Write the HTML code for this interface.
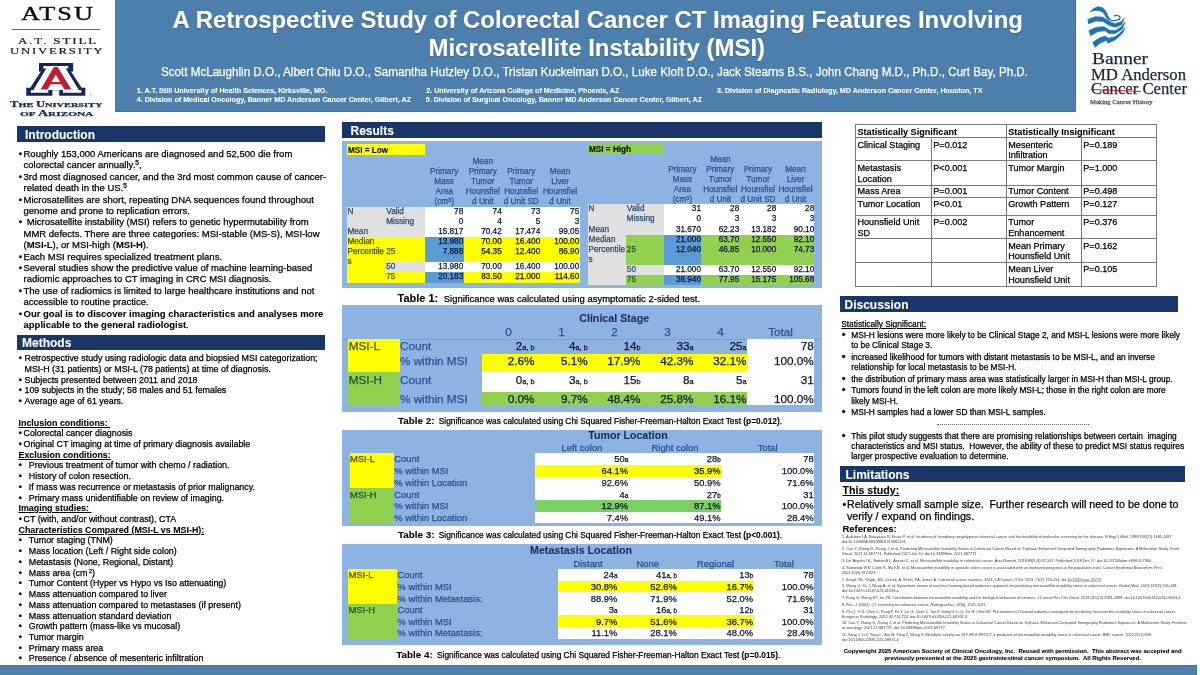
<!DOCTYPE html>
<html><head><meta charset="utf-8"><title>Poster</title>
<style>
html,body{margin:0;padding:0;background:#fff;}
body{width:1200px;height:675px;position:relative;overflow:hidden;font-family:"Liberation Sans",sans-serif;color:#000;}
.t{position:absolute;white-space:pre;line-height:1;-webkit-text-stroke:0.25px currentColor;}
b,.b{-webkit-text-stroke:0.08px currentColor;}
.r{position:absolute;}
u{text-decoration-thickness:0.5px;text-underline-offset:0.6px;}
sub.s{font-size:55%;vertical-align:baseline;}
#w{position:absolute;left:0;top:0;width:1200px;height:675px;will-change:transform;}
</style></head><body><div id="w">

<div class="r" style="left:115.20px;top:0.00px;width:960.80px;height:111.70px;background:#456f99;"></div>
<div class="r" style="left:115.20px;top:0.00px;width:960.00px;height:110.90px;background:#4d7fac;"></div>
<div class="t b" style="top:8px;font-size:23.95px;left:296.80px;width:600px;text-align:center;font-weight:bold;color:#fff;left:97.8px;width:1000px;text-shadow:0 0.5px 1px rgba(0,0,0,.25);">A Retrospective Study of Colorectal Cancer CT Imaging Features Involving</div>
<div class="t b" style="top:36px;font-size:23.95px;left:296.80px;width:600px;text-align:center;font-weight:bold;color:#fff;left:96.8px;width:1000px;text-shadow:0 0.5px 1px rgba(0,0,0,.25);">Microsatellite Instability (MSI)</div>
<div class="t" style="left:161.00px;top:66px;font-size:12.2px;transform-origin:0 0;transform:scaleX(0.9533);color:#fff;">Scott McLaughlin D.O., Albert Chiu D.O., Samantha Hutzley D.O., Tristan Kuckelman D.O., Luke Kloft D.O., Jack Stearns B.S., John Chang M.D., Ph.D., Curt Bay, Ph.D.</div>
<div class="t b" style="top:88px;font-size:7.15px;left:136.75px;font-weight:bold;color:#fff;">1. A.T. Still University of Health Sciences, Kirksville, MO.</div>
<div class="t b" style="top:97px;font-size:7.15px;left:136.75px;font-weight:bold;color:#fff;">4. Division of Medical Oncology, Banner MD Anderson Cancer Center, Gilbert, AZ</div>
<div class="t b" style="top:88px;font-size:7.15px;left:426.25px;font-weight:bold;color:#fff;">2. University of Arizona College of Medicine, Phoenix, AZ</div>
<div class="t b" style="top:97px;font-size:7.15px;left:425.75px;font-weight:bold;color:#fff;">5. Division of Surgical Oncology, Banner MD Anderson Cancer Center, Gilbert, AZ</div>
<div class="t b" style="top:88px;font-size:7.15px;left:717.00px;font-weight:bold;color:#fff;">3. Division of Diagnostic Radiology, MD Anderson Cancer Center, Houston, TX</div>
<div class="t" style="left:20.50px;top:4px;font-size:19.0px;transform-origin:0 0;transform:scaleX(1.3842);color:#111;font-family:'Liberation Serif',serif;letter-spacing:1.5px;-webkit-text-stroke:0.35px #111;">ATSU</div>
<div class="r" style="left:11.50px;top:29.00px;width:88.10px;height:0.90px;background:#666;"></div>
<div class="t" style="left:17.80px;top:37px;font-size:8.6px;transform-origin:0 0;transform:scaleX(1.5197);color:#222;font-family:'Liberation Serif',serif;letter-spacing:1.2px;-webkit-text-stroke:0.2px #222;">A.T. STILL</div>
<div class="t" style="left:10.30px;top:47px;font-size:8.6px;transform-origin:0 0;transform:scaleX(1.4833);color:#222;font-family:'Liberation Serif',serif;letter-spacing:1.2px;-webkit-text-stroke:0.2px #222;">UNIVERSITY</div>
<svg class="r" style="left:20px;top:58px" width="72" height="42" viewBox="0 0 1157 675">
<polygon fill="#15275a" points="305,82 855,82 855,215 820,215 990,480 1050,480 1050,605 630,605 630,520 520,520 520,605 100,605 100,480 165,480 335,215 305,215"/>
<polygon fill="#fff" points="375,130 775,130 775,168 735,168 945,515 985,515 985,560 690,560 690,515 455,515 455,560 175,560 175,515 215,515 422,168 375,168"/>
<path fill="#bd1e33" fill-rule="evenodd" d="M545,145 L605,145 L825,505 L715,505 L663,420 L492,420 L440,505 L330,505 Z M575,270 L505,385 L645,385 Z"/>
<circle cx="1135" cy="590" r="13" fill="none" stroke="#666" stroke-width="6"/>
</svg>
<div class="t" style="left:10.00px;top:102px;font-size:7.2px;transform-origin:0 0;transform:scaleX(1.7541);font-weight:bold;color:#1b2c57;font-family:'Liberation Serif',serif;">T<span style="font-size:5.9px">HE </span>U<span style="font-size:5.9px">NIVERSITY</span></div>
<div class="t" style="left:19.60px;top:111px;font-size:7.2px;transform-origin:0 0;transform:scaleX(1.9179);font-weight:bold;color:#1b2c57;font-family:'Liberation Serif',serif;"><span style="font-size:5.9px">OF </span>A<span style="font-size:5.9px">RIZONA</span></div>
<svg class="r" style="left:1084px;top:2px" width="48" height="50" viewBox="0 0 648 675" fill="#1a74b2" stroke="#1a74b2" stroke-width="9" stroke-linejoin="round">
<polygon points="85,130 130,88 190,64 250,76 292,122 320,182 350,236 336,246 300,214 280,170 255,137 200,114 140,116"/>
<path fill="none" stroke-width="17" d="M340,236 C400,266 482,248 488,210 C488,180 430,176 405,187"/>
<polygon points="52,236 150,200 250,204 330,256 420,294 500,266 542,220 512,304 430,340 340,318 260,263 160,257 60,294"/>
<polygon points="66,385 170,340 270,335 340,378 420,388 500,338 552,272 518,366 420,426 340,426 280,388 180,402 90,454"/>
<polygon points="120,545 200,490 280,460 330,488 420,468 510,398 552,348 524,418 430,506 322,556 305,518 220,552 150,612"/>
</svg>
<div class="t" style="left:1092.20px;top:50px;font-size:17.6px;transform-origin:0 0;transform:scaleX(1.1021);color:#1a2440;font-family:'Liberation Serif',serif;-webkit-text-stroke:0.25px #1a2440;">Banner</div>
<div class="t" style="left:1091.40px;top:66px;font-size:17.6px;transform-origin:0 0;transform:scaleX(0.9482);color:#1a2440;font-family:'Liberation Serif',serif;-webkit-text-stroke:0.25px #1a2440;">MD Anderson</div>
<div class="t" style="left:1091.40px;top:80px;font-size:17.6px;transform-origin:0 0;transform:scaleX(0.9493);color:#1a2440;font-family:'Liberation Serif',serif;-webkit-text-stroke:0.25px #1a2440;">Cancer Center</div>
<div class="r" style="left:1091px;top:88.6px;width:49.5px;height:1.1px;background:#c8202c;transform:rotate(2.4deg);transform-origin:0 0"></div>
<div class="t" style="left:1090.00px;top:100px;font-size:5.6px;transform-origin:0 0;transform:scaleX(1.1869);color:#555;font-family:'Liberation Serif',serif;">Making Cancer History</div>
<div class="r" style="left:0px;top:665px;width:1197px;height:10px;background:#4e80ac;"></div>
<div class="r" style="left:0px;top:665px;width:1197px;height:1px;background:#41709c;"></div>
<div class="r" style="left:1196px;top:665px;width:1px;height:10px;background:#41709c;"></div>
<div class="r" style="left:17px;top:126px;width:308px;height:16px;background:#1a3668;"></div>
<div class="t b" style="top:129px;font-size:12px;left:25.00px;font-weight:bold;color:#fff;">Introduction</div>
<div class="t" style="top:149px;font-size:9.5px;left:18.75px;">•</div>
<div class="t" style="top:149px;font-size:9.5px;left:23.50px;">Roughly 153,000 Americans are diagnosed and 52,500 die from</div>
<div class="t" style="top:160px;font-size:9.5px;left:23.50px;">colorectal cancer annually.<span style="font-size:6.6px;position:relative;top:-2.6px">5</span>,</div>
<div class="t" style="top:172px;font-size:9.5px;left:18.75px;">•</div>
<div class="t" style="top:172px;font-size:9.5px;left:23.50px;">3rd most diagnosed cancer, and the 3rd most common cause of cancer-</div>
<div class="t" style="top:183px;font-size:9.5px;left:23.50px;">related death in the US.<span style="font-size:6.6px;position:relative;top:-2.6px">5</span></div>
<div class="t" style="top:195px;font-size:9.5px;left:18.75px;">•</div>
<div class="t" style="top:195px;font-size:9.5px;left:23.50px;">Microsatellites are short, repeating DNA sequences found throughout</div>
<div class="t" style="top:206px;font-size:9.5px;left:23.50px;">genome and prone to replication errors.</div>
<div class="t" style="top:217px;font-size:9.5px;left:18.75px;">•</div>
<div class="t" style="top:217px;font-size:9.5px;left:26.75px;">Microsatellite instability (MSI) refers to genetic hypermutability from</div>
<div class="t" style="top:229px;font-size:9.5px;left:23.50px;">MMR defects. There are three categories: MSI-stable (MS-S), MSI-low</div>
<div class="t" style="top:240px;font-size:9.5px;left:23.50px;">(<b>MSI-L</b>), or MSI-high (<b>MSI-H</b>).</div>
<div class="t" style="top:252px;font-size:9.5px;left:18.75px;">•</div>
<div class="t" style="top:252px;font-size:9.5px;left:23.50px;">Each MSI requires specialized treatment plans.</div>
<div class="t" style="top:263px;font-size:9.5px;left:18.75px;">•</div>
<div class="t" style="top:263px;font-size:9.5px;left:23.50px;">Several studies show the predictive value of machine learning-based</div>
<div class="t" style="top:274px;font-size:9.5px;left:23.50px;">radiomic approaches to CT imaging in CRC MSI diagnosis.</div>
<div class="t" style="top:286px;font-size:9.5px;left:18.75px;">•</div>
<div class="t" style="top:286px;font-size:9.5px;left:23.50px;">The use of radiomics is limited to large healthcare institutions and not</div>
<div class="t" style="top:297px;font-size:9.5px;left:23.50px;">accessible to routine practice.</div>
<div class="t" style="top:309px;font-size:9.5px;left:18.75px;">•</div>
<div class="t" style="top:309px;font-size:9.5px;left:23.50px;"><b>Our goal is to discover imaging characteristics and analyses more</b></div>
<div class="t" style="top:320px;font-size:9.5px;left:23.50px;"><b>applicable to the general radiologist</b>.</div>
<div class="r" style="left:17px;top:335px;width:308px;height:15px;background:#1a3668;"></div>
<div class="t b" style="top:337px;font-size:12px;left:22.00px;font-weight:bold;color:#fff;">Methods</div>
<div class="t" style="top:354px;font-size:8.9px;left:18.75px;">•</div>
<div class="t" style="top:354px;font-size:8.9px;left:24.50px;">Retrospective study using radiologic data and biopsied MSI categorization;</div>
<div class="t" style="top:365px;font-size:8.9px;left:24.50px;">MSI-H (31 patients) or MSI-L (78 patients) at time of diagnosis.</div>
<div class="t" style="top:376px;font-size:8.9px;left:18.75px;">•</div>
<div class="t" style="top:376px;font-size:8.9px;left:24.50px;">Subjects presented between 2011 and 2018</div>
<div class="t" style="top:386px;font-size:8.9px;left:18.75px;">•</div>
<div class="t" style="top:386px;font-size:8.9px;left:24.50px;">109 subjects in the study; 58 males and 51 females</div>
<div class="t" style="top:397px;font-size:8.9px;left:18.75px;">•</div>
<div class="t" style="top:397px;font-size:8.9px;left:24.50px;">Average age of 61 years.</div>
<div class="t b" style="top:419px;font-size:8.9px;left:18.50px;font-weight:bold;"><u>Inclusion conditions: </u></div>
<div class="t" style="top:429px;font-size:8.9px;left:18.75px;">•</div>
<div class="t" style="top:429px;font-size:8.9px;left:23.50px;">Colorectal cancer diagnosis</div>
<div class="t" style="top:440px;font-size:8.9px;left:18.75px;">•</div>
<div class="t" style="top:440px;font-size:8.9px;left:23.50px;">Original CT imaging at time of primary diagnosis available</div>
<div class="t b" style="top:451px;font-size:8.9px;left:18.50px;font-weight:bold;"><u>Exclusion conditions:</u></div>
<div class="t" style="top:461px;font-size:8.9px;left:18.75px;">•</div>
<div class="t" style="top:461px;font-size:8.9px;left:28.75px;">Previous treatment of tumor with chemo / radiation.</div>
<div class="t" style="top:472px;font-size:8.9px;left:18.75px;">•</div>
<div class="t" style="top:472px;font-size:8.9px;left:28.75px;">History of colon resection.</div>
<div class="t" style="top:483px;font-size:8.9px;left:18.75px;">•</div>
<div class="t" style="top:483px;font-size:8.9px;left:28.75px;">If mass was recurrence or metastasis of prior malignancy.</div>
<div class="t" style="top:494px;font-size:8.9px;left:18.75px;">•</div>
<div class="t" style="top:494px;font-size:8.9px;left:28.75px;">Primary mass unidentifiable on review of imaging.</div>
<div class="t b" style="top:504px;font-size:8.9px;left:18.50px;font-weight:bold;"><u>Imaging studies: </u></div>
<div class="t" style="top:515px;font-size:8.9px;left:18.75px;">•</div>
<div class="t" style="top:515px;font-size:8.9px;left:23.50px;">CT (with, and/or without contrast), CTA</div>
<div class="t b" style="top:526px;font-size:8.9px;left:18.50px;font-weight:bold;"><u>Characteristics Compared (MSI-L vs MSI-H):</u></div>
<div class="t" style="top:536px;font-size:8.9px;left:18.75px;">•</div>
<div class="t" style="top:536px;font-size:8.9px;left:28.75px;">Tumor staging (TNM)</div>
<div class="t" style="top:547px;font-size:8.9px;left:18.75px;">•</div>
<div class="t" style="top:547px;font-size:8.9px;left:28.75px;">Mass location (Left / Right side colon)</div>
<div class="t" style="top:558px;font-size:8.9px;left:18.75px;">•</div>
<div class="t" style="top:558px;font-size:8.9px;left:28.75px;">Metastasis (None, Regional, Distant)</div>
<div class="t" style="top:569px;font-size:8.9px;left:18.75px;">•</div>
<div class="t" style="top:569px;font-size:8.9px;left:28.75px;">Mass area (cm<span style="font-size:5.5px;position:relative;top:-3px"> 2</span>)</div>
<div class="t" style="top:579px;font-size:8.9px;left:18.75px;">•</div>
<div class="t" style="top:579px;font-size:8.9px;left:28.75px;">Tumor Content (Hyper vs Hypo vs Iso attenuating)</div>
<div class="t" style="top:590px;font-size:8.9px;left:18.75px;">•</div>
<div class="t" style="top:590px;font-size:8.9px;left:28.75px;">Mass attenuation compared to liver</div>
<div class="t" style="top:601px;font-size:8.9px;left:18.75px;">•</div>
<div class="t" style="top:601px;font-size:8.9px;left:28.75px;">Mass attenuation compared to metastases (if present)</div>
<div class="t" style="top:612px;font-size:8.9px;left:18.75px;">•</div>
<div class="t" style="top:612px;font-size:8.9px;left:28.75px;">Mass attenuation standard deviation</div>
<div class="t" style="top:622px;font-size:8.9px;left:18.75px;">•</div>
<div class="t" style="top:622px;font-size:8.9px;left:28.75px;">Growth pattern (mass-like vs mucosal)</div>
<div class="t" style="top:633px;font-size:8.9px;left:18.75px;">•</div>
<div class="t" style="top:633px;font-size:8.9px;left:28.75px;">Tumor margin</div>
<div class="t" style="top:644px;font-size:8.9px;left:18.75px;">•</div>
<div class="t" style="top:644px;font-size:8.9px;left:28.75px;">Primary mass area</div>
<div class="t" style="top:654px;font-size:8.9px;left:18.75px;">•</div>
<div class="t" style="top:654px;font-size:8.9px;left:28.75px;">Presence / absence of mesenteric infiltration</div>
<div class="r" style="left:342px;top:122px;width:480px;height:16px;background:#1a3668;"></div>
<div class="t b" style="top:125px;font-size:12px;left:350.50px;font-weight:bold;color:#fff;">Results</div>
<div class="r" style="left:342px;top:141px;width:480px;height:147px;background:#8db3e2;"></div>
<div class="r" style="left:347px;top:144px;width:78px;height:11px;background:#ffff00;"></div>
<div class="t b" style="top:147px;font-size:8.2px;left:347.90px;font-weight:bold;">MSI = Low</div>
<div class="t" style="top:168px;font-size:8.2px;left:144.15px;width:600px;text-align:center;color:#2b5190;">Primary</div>
<div class="t" style="top:178px;font-size:8.2px;left:144.15px;width:600px;text-align:center;color:#2b5190;">Mass</div>
<div class="t" style="top:188px;font-size:8.2px;left:144.15px;width:600px;text-align:center;color:#2b5190;">Area</div>
<div class="t" style="top:198px;font-size:8.2px;left:144.15px;width:600px;text-align:center;color:#2b5190;">(cm<span style="font-size:5.5px;position:relative;top:-2.5px">3</span>)</div>
<div class="t" style="top:158px;font-size:8.2px;left:182.75px;width:600px;text-align:center;color:#2b5190;">Mean</div>
<div class="t" style="top:168px;font-size:8.2px;left:182.75px;width:600px;text-align:center;color:#2b5190;">Primary</div>
<div class="t" style="top:178px;font-size:8.2px;left:182.75px;width:600px;text-align:center;color:#2b5190;">Tumor</div>
<div class="t" style="top:188px;font-size:8.2px;left:182.75px;width:600px;text-align:center;color:#2b5190;">Hounsfiel</div>
<div class="t" style="top:198px;font-size:8.2px;left:182.75px;width:600px;text-align:center;color:#2b5190;">d Unit</div>
<div class="t" style="top:168px;font-size:8.2px;left:221.25px;width:600px;text-align:center;color:#2b5190;">Primary</div>
<div class="t" style="top:178px;font-size:8.2px;left:221.25px;width:600px;text-align:center;color:#2b5190;">Tumor</div>
<div class="t" style="top:188px;font-size:8.2px;left:221.25px;width:600px;text-align:center;color:#2b5190;">Hounsfiel</div>
<div class="t" style="top:198px;font-size:8.2px;left:221.25px;width:600px;text-align:center;color:#2b5190;">d Unit SD</div>
<div class="t" style="top:168px;font-size:8.2px;left:260.00px;width:600px;text-align:center;color:#2b5190;">Mean</div>
<div class="t" style="top:178px;font-size:8.2px;left:260.00px;width:600px;text-align:center;color:#2b5190;">Liver</div>
<div class="t" style="top:188px;font-size:8.2px;left:260.00px;width:600px;text-align:center;color:#2b5190;">Hounsfiel</div>
<div class="t" style="top:198px;font-size:8.2px;left:260.00px;width:600px;text-align:center;color:#2b5190;">d Unit</div>
<div class="r" style="left:588px;top:144px;width:76px;height:10px;background:#92d050;"></div>
<div class="t b" style="top:146px;font-size:8.2px;left:589.00px;font-weight:bold;">MSI = High</div>
<div class="t" style="top:166px;font-size:8.2px;left:382.42px;width:600px;text-align:center;color:#2b5190;">Primary</div>
<div class="t" style="top:176px;font-size:8.2px;left:382.42px;width:600px;text-align:center;color:#2b5190;">Mass</div>
<div class="t" style="top:186px;font-size:8.2px;left:382.42px;width:600px;text-align:center;color:#2b5190;">Area</div>
<div class="t" style="top:196px;font-size:8.2px;left:382.42px;width:600px;text-align:center;color:#2b5190;">(cm<span style="font-size:5.5px;position:relative;top:-2.5px">3</span>)</div>
<div class="t" style="top:156px;font-size:8.2px;left:420.38px;width:600px;text-align:center;color:#2b5190;">Mean</div>
<div class="t" style="top:166px;font-size:8.2px;left:420.38px;width:600px;text-align:center;color:#2b5190;">Primary</div>
<div class="t" style="top:176px;font-size:8.2px;left:420.38px;width:600px;text-align:center;color:#2b5190;">Tumor</div>
<div class="t" style="top:186px;font-size:8.2px;left:420.38px;width:600px;text-align:center;color:#2b5190;">Hounsfiel</div>
<div class="t" style="top:196px;font-size:8.2px;left:420.38px;width:600px;text-align:center;color:#2b5190;">d Unit</div>
<div class="t" style="top:166px;font-size:8.2px;left:458.00px;width:600px;text-align:center;color:#2b5190;">Primary</div>
<div class="t" style="top:176px;font-size:8.2px;left:458.00px;width:600px;text-align:center;color:#2b5190;">Tumor</div>
<div class="t" style="top:186px;font-size:8.2px;left:458.00px;width:600px;text-align:center;color:#2b5190;">Hounsfiel</div>
<div class="t" style="top:196px;font-size:8.2px;left:458.00px;width:600px;text-align:center;color:#2b5190;">d Unit SD</div>
<div class="t" style="top:166px;font-size:8.2px;left:495.50px;width:600px;text-align:center;color:#2b5190;">Mean</div>
<div class="t" style="top:176px;font-size:8.2px;left:495.50px;width:600px;text-align:center;color:#2b5190;">Liver</div>
<div class="t" style="top:186px;font-size:8.2px;left:495.50px;width:600px;text-align:center;color:#2b5190;">Hounsfiel</div>
<div class="t" style="top:196px;font-size:8.2px;left:495.50px;width:600px;text-align:center;color:#2b5190;">d Unit</div>
<div class="r" style="left:347px;top:207px;width:39px;height:10px;background:#e0e0e0;"></div>
<div class="r" style="left:386px;top:207px;width:39px;height:10px;background:#e0e0e0;"></div>
<div class="r" style="left:425px;top:207px;width:39px;height:10px;background:#fff;"></div>
<div class="r" style="left:464px;top:207px;width:38px;height:10px;background:#fff;"></div>
<div class="r" style="left:502px;top:207px;width:38px;height:10px;background:#fff;"></div>
<div class="r" style="left:540px;top:207px;width:40px;height:10px;background:#fff;"></div>
<div class="r" style="left:347px;top:217px;width:39px;height:10px;background:#e0e0e0;"></div>
<div class="r" style="left:386px;top:217px;width:39px;height:10px;background:#e0e0e0;"></div>
<div class="r" style="left:425px;top:217px;width:39px;height:10px;background:#fff;"></div>
<div class="r" style="left:464px;top:217px;width:38px;height:10px;background:#fff;"></div>
<div class="r" style="left:502px;top:217px;width:38px;height:10px;background:#fff;"></div>
<div class="r" style="left:540px;top:217px;width:40px;height:10px;background:#fff;"></div>
<div class="r" style="left:347px;top:227px;width:39px;height:10px;background:#e0e0e0;"></div>
<div class="r" style="left:386px;top:227px;width:39px;height:10px;background:#e0e0e0;"></div>
<div class="r" style="left:425px;top:227px;width:39px;height:10px;background:#fff;"></div>
<div class="r" style="left:464px;top:227px;width:38px;height:10px;background:#fff;"></div>
<div class="r" style="left:502px;top:227px;width:38px;height:10px;background:#fff;"></div>
<div class="r" style="left:540px;top:227px;width:40px;height:10px;background:#fff;"></div>
<div class="r" style="left:347px;top:237px;width:39px;height:10px;background:#ffff00;"></div>
<div class="r" style="left:386px;top:237px;width:39px;height:10px;background:#ffff00;"></div>
<div class="r" style="left:425px;top:237px;width:39px;height:10px;background:#5b9bd5;"></div>
<div class="r" style="left:464px;top:237px;width:38px;height:10px;background:#ffff00;"></div>
<div class="r" style="left:502px;top:237px;width:38px;height:10px;background:#ffff00;"></div>
<div class="r" style="left:540px;top:237px;width:40px;height:10px;background:#ffff00;"></div>
<div class="r" style="left:347px;top:247px;width:39px;height:15px;background:#ffff00;"></div>
<div class="r" style="left:386px;top:247px;width:39px;height:15px;background:#ffff00;"></div>
<div class="r" style="left:425px;top:247px;width:39px;height:15px;background:#5b9bd5;"></div>
<div class="r" style="left:464px;top:247px;width:38px;height:15px;background:#ffff00;"></div>
<div class="r" style="left:502px;top:247px;width:38px;height:15px;background:#ffff00;"></div>
<div class="r" style="left:540px;top:247px;width:40px;height:15px;background:#ffff00;"></div>
<div class="r" style="left:347px;top:262px;width:39px;height:10px;background:#ffff00;"></div>
<div class="r" style="left:386px;top:262px;width:39px;height:10px;background:#e0e0e0;"></div>
<div class="r" style="left:425px;top:262px;width:39px;height:10px;background:#fff;"></div>
<div class="r" style="left:464px;top:262px;width:38px;height:10px;background:#fff;"></div>
<div class="r" style="left:502px;top:262px;width:38px;height:10px;background:#fff;"></div>
<div class="r" style="left:540px;top:262px;width:40px;height:10px;background:#fff;"></div>
<div class="r" style="left:347px;top:272px;width:39px;height:11px;background:#ffff00;"></div>
<div class="r" style="left:386px;top:272px;width:39px;height:11px;background:#ffff00;"></div>
<div class="r" style="left:425px;top:272px;width:39px;height:11px;background:#5b9bd5;"></div>
<div class="r" style="left:464px;top:272px;width:38px;height:11px;background:#ffff00;"></div>
<div class="r" style="left:502px;top:272px;width:38px;height:11px;background:#ffff00;"></div>
<div class="r" style="left:540px;top:272px;width:40px;height:11px;background:#ffff00;"></div>
<div class="t" style="top:208px;font-size:8.2px;right:736.80px;color:#0b1430;">78</div>
<div class="t" style="top:208px;font-size:8.2px;right:698.30px;color:#0b1430;">74</div>
<div class="t" style="top:208px;font-size:8.2px;right:659.80px;color:#0b1430;">73</div>
<div class="t" style="top:208px;font-size:8.2px;right:620.80px;color:#0b1430;">75</div>
<div class="t" style="top:208px;font-size:8.2px;left:347.50px;color:#2c4a6e;">N</div>
<div class="t" style="top:208px;font-size:8.2px;left:386.30px;color:#2c4a6e;">Valid</div>
<div class="t" style="top:218px;font-size:8.2px;right:736.80px;color:#0b1430;">0</div>
<div class="t" style="top:218px;font-size:8.2px;right:698.30px;color:#0b1430;">4</div>
<div class="t" style="top:218px;font-size:8.2px;right:659.80px;color:#0b1430;">5</div>
<div class="t" style="top:218px;font-size:8.2px;right:620.80px;color:#0b1430;">3</div>
<div class="t" style="top:218px;font-size:8.2px;left:386.30px;color:#2c4a6e;">Missing</div>
<div class="t" style="top:228px;font-size:8.2px;right:736.80px;color:#0b1430;">15.817</div>
<div class="t" style="top:228px;font-size:8.2px;right:698.30px;color:#0b1430;">70.42</div>
<div class="t" style="top:228px;font-size:8.2px;right:659.80px;color:#0b1430;">17.474</div>
<div class="t" style="top:228px;font-size:8.2px;right:620.80px;color:#0b1430;">99.05</div>
<div class="t" style="top:228px;font-size:8.2px;left:347.50px;color:#2c4a6e;">Mean</div>
<div class="t" style="top:238px;font-size:8.2px;right:736.80px;color:#0b1430;">13.980</div>
<div class="t" style="top:238px;font-size:8.2px;right:698.30px;color:#0b1430;">70.00</div>
<div class="t" style="top:238px;font-size:8.2px;right:659.80px;color:#0b1430;">16.400</div>
<div class="t" style="top:238px;font-size:8.2px;right:620.80px;color:#0b1430;">100.00</div>
<div class="t" style="top:238px;font-size:8.2px;left:347.50px;color:#4b4d14;">Median</div>
<div class="t" style="top:248px;font-size:8.2px;right:736.80px;color:#0b1430;">7.888</div>
<div class="t" style="top:248px;font-size:8.2px;right:698.30px;color:#0b1430;">54.35</div>
<div class="t" style="top:248px;font-size:8.2px;right:659.80px;color:#0b1430;">12.400</div>
<div class="t" style="top:248px;font-size:8.2px;right:620.80px;color:#0b1430;">86.90</div>
<div class="t" style="top:248px;font-size:8.2px;left:347.50px;color:#4b4d14;">Percentile</div>
<div class="t" style="top:248px;font-size:8.2px;left:386.30px;color:#4b4d14;">25</div>
<div class="t" style="top:263px;font-size:8.2px;right:736.80px;color:#0b1430;">13.980</div>
<div class="t" style="top:263px;font-size:8.2px;right:698.30px;color:#0b1430;">70.00</div>
<div class="t" style="top:263px;font-size:8.2px;right:659.80px;color:#0b1430;">16.400</div>
<div class="t" style="top:263px;font-size:8.2px;right:620.80px;color:#0b1430;">100.00</div>
<div class="t" style="top:263px;font-size:8.2px;left:386.30px;color:#2c4a6e;">50</div>
<div class="t" style="top:273px;font-size:8.2px;right:736.80px;color:#0b1430;">20.183</div>
<div class="t" style="top:273px;font-size:8.2px;right:698.30px;color:#0b1430;">83.50</div>
<div class="t" style="top:273px;font-size:8.2px;right:659.80px;color:#0b1430;">21.000</div>
<div class="t" style="top:273px;font-size:8.2px;right:620.80px;color:#0b1430;">114.60</div>
<div class="t" style="top:273px;font-size:8.2px;left:386.30px;color:#4b4d14;">75</div>
<div class="t" style="top:258px;font-size:8.2px;left:347.50px;color:#4b4d14;">s</div>
<div class="r" style="left:588px;top:204px;width:38px;height:10px;background:#e0e0e0;"></div>
<div class="r" style="left:626px;top:204px;width:38px;height:10px;background:#e0e0e0;"></div>
<div class="r" style="left:664px;top:204px;width:37px;height:10px;background:#fff;"></div>
<div class="r" style="left:701px;top:204px;width:39px;height:10px;background:#fff;"></div>
<div class="r" style="left:740px;top:204px;width:36px;height:10px;background:#fff;"></div>
<div class="r" style="left:776px;top:204px;width:38px;height:10px;background:#fff;"></div>
<div class="r" style="left:588px;top:214px;width:38px;height:11px;background:#e0e0e0;"></div>
<div class="r" style="left:626px;top:214px;width:38px;height:11px;background:#e0e0e0;"></div>
<div class="r" style="left:664px;top:214px;width:37px;height:11px;background:#fff;"></div>
<div class="r" style="left:701px;top:214px;width:39px;height:11px;background:#fff;"></div>
<div class="r" style="left:740px;top:214px;width:36px;height:11px;background:#fff;"></div>
<div class="r" style="left:776px;top:214px;width:38px;height:11px;background:#fff;"></div>
<div class="r" style="left:588px;top:225px;width:38px;height:10px;background:#e0e0e0;"></div>
<div class="r" style="left:626px;top:225px;width:38px;height:10px;background:#e0e0e0;"></div>
<div class="r" style="left:664px;top:225px;width:37px;height:10px;background:#fff;"></div>
<div class="r" style="left:701px;top:225px;width:39px;height:10px;background:#fff;"></div>
<div class="r" style="left:740px;top:225px;width:36px;height:10px;background:#fff;"></div>
<div class="r" style="left:776px;top:225px;width:38px;height:10px;background:#fff;"></div>
<div class="r" style="left:588px;top:235px;width:38px;height:10px;background:#e0e0e0;"></div>
<div class="r" style="left:626px;top:235px;width:38px;height:10px;background:#92d050;"></div>
<div class="r" style="left:664px;top:235px;width:37px;height:10px;background:#5b9bd5;"></div>
<div class="r" style="left:701px;top:235px;width:39px;height:10px;background:#92d050;"></div>
<div class="r" style="left:740px;top:235px;width:36px;height:10px;background:#92d050;"></div>
<div class="r" style="left:776px;top:235px;width:38px;height:10px;background:#92d050;"></div>
<div class="r" style="left:588px;top:245px;width:38px;height:20px;background:#e0e0e0;"></div>
<div class="r" style="left:626px;top:245px;width:38px;height:20px;background:#92d050;"></div>
<div class="r" style="left:664px;top:245px;width:37px;height:20px;background:#5b9bd5;"></div>
<div class="r" style="left:701px;top:245px;width:39px;height:20px;background:#92d050;"></div>
<div class="r" style="left:740px;top:245px;width:36px;height:20px;background:#92d050;"></div>
<div class="r" style="left:776px;top:245px;width:38px;height:20px;background:#92d050;"></div>
<div class="r" style="left:588px;top:265px;width:38px;height:10px;background:#e0e0e0;"></div>
<div class="r" style="left:626px;top:265px;width:38px;height:10px;background:#e0e0e0;"></div>
<div class="r" style="left:664px;top:265px;width:37px;height:10px;background:#fff;"></div>
<div class="r" style="left:701px;top:265px;width:39px;height:10px;background:#fff;"></div>
<div class="r" style="left:740px;top:265px;width:36px;height:10px;background:#fff;"></div>
<div class="r" style="left:776px;top:265px;width:38px;height:10px;background:#fff;"></div>
<div class="r" style="left:588px;top:275px;width:38px;height:10px;background:#e0e0e0;"></div>
<div class="r" style="left:626px;top:275px;width:38px;height:10px;background:#92d050;"></div>
<div class="r" style="left:664px;top:275px;width:37px;height:10px;background:#5b9bd5;"></div>
<div class="r" style="left:701px;top:275px;width:39px;height:10px;background:#92d050;"></div>
<div class="r" style="left:740px;top:275px;width:36px;height:10px;background:#92d050;"></div>
<div class="r" style="left:776px;top:275px;width:38px;height:10px;background:#92d050;"></div>
<div class="t" style="top:205px;font-size:8.2px;right:499.05px;color:#0b1430;">31</div>
<div class="t" style="top:205px;font-size:8.2px;right:460.80px;color:#0b1430;">28</div>
<div class="t" style="top:205px;font-size:8.2px;right:423.80px;color:#0b1430;">28</div>
<div class="t" style="top:205px;font-size:8.2px;right:385.80px;color:#0b1430;">28</div>
<div class="t" style="top:205px;font-size:8.2px;left:588.60px;color:#2c4a6e;">N</div>
<div class="t" style="top:205px;font-size:8.2px;left:626.85px;color:#2c4a6e;">Valid</div>
<div class="t" style="top:215px;font-size:8.2px;right:499.05px;color:#0b1430;">0</div>
<div class="t" style="top:215px;font-size:8.2px;right:460.80px;color:#0b1430;">3</div>
<div class="t" style="top:215px;font-size:8.2px;right:423.80px;color:#0b1430;">3</div>
<div class="t" style="top:215px;font-size:8.2px;right:385.80px;color:#0b1430;">3</div>
<div class="t" style="top:215px;font-size:8.2px;left:626.85px;color:#2c4a6e;">Missing</div>
<div class="t" style="top:226px;font-size:8.2px;right:499.05px;color:#0b1430;">31.670</div>
<div class="t" style="top:226px;font-size:8.2px;right:460.80px;color:#0b1430;">62.23</div>
<div class="t" style="top:226px;font-size:8.2px;right:423.80px;color:#0b1430;">13.182</div>
<div class="t" style="top:226px;font-size:8.2px;right:385.80px;color:#0b1430;">90.10</div>
<div class="t" style="top:226px;font-size:8.2px;left:588.60px;color:#2c4a6e;">Mean</div>
<div class="t" style="top:236px;font-size:8.2px;right:499.05px;color:#0b1430;">21.000</div>
<div class="t" style="top:236px;font-size:8.2px;right:460.80px;color:#0b1430;">63.70</div>
<div class="t" style="top:236px;font-size:8.2px;right:423.80px;color:#0b1430;">12.550</div>
<div class="t" style="top:236px;font-size:8.2px;right:385.80px;color:#0b1430;">92.10</div>
<div class="t" style="top:236px;font-size:8.2px;left:588.60px;color:#2c4a6e;">Median</div>
<div class="t" style="top:246px;font-size:8.2px;right:499.05px;color:#0b1430;">12.040</div>
<div class="t" style="top:246px;font-size:8.2px;right:460.80px;color:#0b1430;">46.85</div>
<div class="t" style="top:246px;font-size:8.2px;right:423.80px;color:#0b1430;">10.000</div>
<div class="t" style="top:246px;font-size:8.2px;right:385.80px;color:#0b1430;">74.73</div>
<div class="t" style="top:246px;font-size:8.2px;left:588.60px;color:#2c4a6e;">Percentile</div>
<div class="t" style="top:246px;font-size:8.2px;left:626.85px;color:#22552e;">25</div>
<div class="t" style="top:266px;font-size:8.2px;right:499.05px;color:#0b1430;">21.000</div>
<div class="t" style="top:266px;font-size:8.2px;right:460.80px;color:#0b1430;">63.70</div>
<div class="t" style="top:266px;font-size:8.2px;right:423.80px;color:#0b1430;">12.550</div>
<div class="t" style="top:266px;font-size:8.2px;right:385.80px;color:#0b1430;">92.10</div>
<div class="t" style="top:266px;font-size:8.2px;left:626.85px;color:#2c4a6e;">50</div>
<div class="t" style="top:276px;font-size:8.2px;right:499.05px;color:#0b1430;">38.940</div>
<div class="t" style="top:276px;font-size:8.2px;right:460.80px;color:#0b1430;">77.95</div>
<div class="t" style="top:276px;font-size:8.2px;right:423.80px;color:#0b1430;">15.175</div>
<div class="t" style="top:276px;font-size:8.2px;right:385.80px;color:#0b1430;">105.68</div>
<div class="t" style="top:276px;font-size:8.2px;left:626.85px;color:#22552e;">75</div>
<div class="t" style="top:256px;font-size:8.2px;left:588.60px;color:#2c4a6e;">s</div>
<div class="t b" style="top:293px;font-size:11px;left:397.50px;font-weight:bold;">Table 1:</div>
<div class="t" style="top:294px;font-size:9.47px;left:443.75px;">Significance was calculated using asymptomatic 2-sided test.</div>
<div class="t b" style="top:416px;font-size:9.85px;left:398.00px;font-weight:bold;">Table 2:</div>
<div class="t" style="top:417px;font-size:8.36px;left:438.75px;">Significance was calculated using Chi Squared Fisher-Freeman-Halton Exact Test <b>(p=0.012)</b>.</div>
<div class="t b" style="top:530px;font-size:9.85px;left:398.00px;font-weight:bold;">Table 3:</div>
<div class="t" style="top:531px;font-size:8.36px;left:438.75px;">Significance was calculated using Chi Squared Fisher-Freeman-Halton Exact Test <b>(p&lt;0.001)</b>.</div>
<div class="t b" style="top:650px;font-size:9.85px;left:396.25px;font-weight:bold;">Table 4:</div>
<div class="t" style="top:651px;font-size:8.36px;left:437.00px;">Significance was calculated using Chi Squared Fisher-Freeman-Halton Exact Test <b>(p=0.015)</b>.</div>
<div class="r" style="left:342px;top:305px;width:480px;height:107px;background:#8db3e2;"></div>
<div class="t b" style="top:313px;font-size:10.7px;left:314.25px;width:600px;text-align:center;font-weight:bold;color:#1a2c5c;">Clinical Stage</div>
<div class="t" style="top:326px;font-size:11.7px;left:208.50px;width:600px;text-align:center;color:#2b5190;">0</div>
<div class="t" style="top:326px;font-size:11.7px;left:261.60px;width:600px;text-align:center;color:#2b5190;">1</div>
<div class="t" style="top:326px;font-size:11.7px;left:314.60px;width:600px;text-align:center;color:#2b5190;">2</div>
<div class="t" style="top:326px;font-size:11.7px;left:367.50px;width:600px;text-align:center;color:#2b5190;">3</div>
<div class="t" style="top:326px;font-size:11.7px;left:420.50px;width:600px;text-align:center;color:#2b5190;">4</div>
<div class="t" style="top:326px;font-size:11.7px;left:480.62px;width:600px;text-align:center;color:#2b5190;">Total</div>
<div class="r" style="left:342px;top:339px;width:480px;height:1px;background:#7c9fd2;"></div>
<div class="r" style="left:348px;top:339px;width:52px;height:33px;background:#ffff00;"></div>
<div class="r" style="left:348px;top:372px;width:52px;height:33px;background:#92d050;"></div>
<div class="r" style="left:482px;top:354px;width:265px;height:18px;background:#ffff00;"></div>
<div class="r" style="left:482px;top:372px;width:265px;height:20px;background:#fff;"></div>
<div class="r" style="left:482px;top:392px;width:265px;height:13px;background:#92d050;"></div>
<div class="r" style="left:747px;top:339px;width:67px;height:66px;background:#fff;"></div>
<div class="t" style="top:340px;font-size:11.7px;left:348.75px;color:#4b4d14;">MSI-L</div>
<div class="t" style="top:374px;font-size:11.7px;left:348.75px;color:#22552e;">MSI-H</div>
<div class="t" style="top:340px;font-size:11.7px;left:400.00px;color:#2b5190;">Count</div>
<div class="t" style="top:340px;font-size:11.7px;right:665.50px;color:#0b1430;">2<span style="font-size:7.3px">a, b</span></div>
<div class="t" style="top:340px;font-size:11.7px;right:612.30px;color:#0b1430;">4<span style="font-size:7.3px">a, b</span></div>
<div class="t" style="top:340px;font-size:11.7px;right:559.50px;color:#0b1430;">14<span style="font-size:7.3px">b</span></div>
<div class="t" style="top:340px;font-size:11.7px;right:506.50px;color:#0b1430;">33<span style="font-size:7.3px">a</span></div>
<div class="t" style="top:340px;font-size:11.7px;right:453.50px;color:#0b1430;">25<span style="font-size:7.3px">a</span></div>
<div class="t" style="top:340px;font-size:11.7px;right:386.25px;color:#0b1430;">78</div>
<div class="t" style="top:355px;font-size:11.7px;left:400.00px;color:#2b5190;">% within MSI</div>
<div class="t" style="top:355px;font-size:11.7px;right:665.50px;color:#0b1430;">2.6%</div>
<div class="t" style="top:355px;font-size:11.7px;right:612.30px;color:#0b1430;">5.1%</div>
<div class="t" style="top:355px;font-size:11.7px;right:559.50px;color:#0b1430;">17.9%</div>
<div class="t" style="top:355px;font-size:11.7px;right:506.50px;color:#0b1430;">42.3%</div>
<div class="t" style="top:355px;font-size:11.7px;right:453.50px;color:#0b1430;">32.1%</div>
<div class="t" style="top:355px;font-size:11.7px;right:386.25px;color:#0b1430;">100.0%</div>
<div class="t" style="top:374px;font-size:11.7px;left:400.00px;color:#2b5190;">Count</div>
<div class="t" style="top:374px;font-size:11.7px;right:665.50px;color:#0b1430;">0<span style="font-size:7.3px">a, b</span></div>
<div class="t" style="top:374px;font-size:11.7px;right:612.30px;color:#0b1430;">3<span style="font-size:7.3px">a, b</span></div>
<div class="t" style="top:374px;font-size:11.7px;right:559.50px;color:#0b1430;">15<span style="font-size:7.3px">b</span></div>
<div class="t" style="top:374px;font-size:11.7px;right:506.50px;color:#0b1430;">8<span style="font-size:7.3px">a</span></div>
<div class="t" style="top:374px;font-size:11.7px;right:453.50px;color:#0b1430;">5<span style="font-size:7.3px">a</span></div>
<div class="t" style="top:374px;font-size:11.7px;right:386.25px;color:#0b1430;">31</div>
<div class="t" style="top:393px;font-size:11.7px;left:400.00px;color:#2b5190;">% within MSI</div>
<div class="t" style="top:393px;font-size:11.7px;right:665.50px;color:#0b1430;">0.0%</div>
<div class="t" style="top:393px;font-size:11.7px;right:612.30px;color:#0b1430;">9.7%</div>
<div class="t" style="top:393px;font-size:11.7px;right:559.50px;color:#0b1430;">48.4%</div>
<div class="t" style="top:393px;font-size:11.7px;right:506.50px;color:#0b1430;">25.8%</div>
<div class="t" style="top:393px;font-size:11.7px;right:453.50px;color:#0b1430;">16.1%</div>
<div class="t" style="top:393px;font-size:11.7px;right:386.25px;color:#0b1430;">100.0%</div>
<div class="r" style="left:342px;top:430px;width:480px;height:96px;background:#8db3e2;"></div>
<div class="t b" style="top:430px;font-size:10.6px;left:328.00px;width:600px;text-align:center;font-weight:bold;color:#1a2c5c;">Tumor Location</div>
<div class="t" style="top:443px;font-size:9.4px;left:281.88px;width:600px;text-align:center;color:#2b5190;">Left colon</div>
<div class="t" style="top:443px;font-size:9.4px;left:375.00px;width:600px;text-align:center;color:#2b5190;">Right colon</div>
<div class="t" style="top:443px;font-size:9.4px;left:467.75px;width:600px;text-align:center;color:#2b5190;">Total</div>
<div class="r" style="left:350px;top:453px;width:44px;height:35px;background:#ffff00;"></div>
<div class="r" style="left:350px;top:488px;width:44px;height:35px;background:#92d050;"></div>
<div class="r" style="left:535px;top:453px;width:279px;height:70px;background:#fff;"></div>
<div class="r" style="left:535px;top:465px;width:186px;height:12px;background:#ffff00;"></div>
<div class="r" style="left:535px;top:500px;width:186px;height:12px;background:#7ccf62;"></div>
<div class="t" style="top:454px;font-size:9.4px;left:350.00px;color:#4b4d14;">MSI-L</div>
<div class="t" style="top:490px;font-size:9.4px;left:350.00px;color:#22552e;">MSI-H</div>
<div class="t" style="top:454px;font-size:9.4px;left:394.25px;color:#2b5190;">Count</div>
<div class="t" style="top:454px;font-size:9.4px;right:571.85px;color:#0b1430;">50<span style="font-size:6.3px">a</span></div>
<div class="t" style="top:454px;font-size:9.4px;right:479.35px;color:#0b1430;">28<span style="font-size:6.3px">b</span></div>
<div class="t" style="top:454px;font-size:9.4px;right:386.35px;color:#0b1430;">78</div>
<div class="t" style="top:466px;font-size:9.4px;left:394.25px;color:#2b5190;">% within MSI</div>
<div class="t" style="top:466px;font-size:9.4px;right:571.85px;color:#0b1430;">64.1%</div>
<div class="t" style="top:466px;font-size:9.4px;right:479.35px;color:#0b1430;">35.9%</div>
<div class="t" style="top:466px;font-size:9.4px;right:386.35px;color:#0b1430;">100.0%</div>
<div class="t" style="top:478px;font-size:9.4px;left:394.25px;color:#2b5190;">% within Location</div>
<div class="t" style="top:478px;font-size:9.4px;right:571.85px;color:#0b1430;">92.6%</div>
<div class="t" style="top:478px;font-size:9.4px;right:479.35px;color:#0b1430;">50.9%</div>
<div class="t" style="top:478px;font-size:9.4px;right:386.35px;color:#0b1430;">71.6%</div>
<div class="t" style="top:490px;font-size:9.4px;left:394.25px;color:#2b5190;">Count</div>
<div class="t" style="top:490px;font-size:9.4px;right:571.85px;color:#0b1430;">4<span style="font-size:6.3px">a</span></div>
<div class="t" style="top:490px;font-size:9.4px;right:479.35px;color:#0b1430;">27<span style="font-size:6.3px">b</span></div>
<div class="t" style="top:490px;font-size:9.4px;right:386.35px;color:#0b1430;">31</div>
<div class="t" style="top:501px;font-size:9.4px;left:394.25px;color:#2b5190;">% within MSI</div>
<div class="t" style="top:501px;font-size:9.4px;right:571.85px;color:#0b1430;">12.9%</div>
<div class="t" style="top:501px;font-size:9.4px;right:479.35px;color:#0b1430;">87.1%</div>
<div class="t" style="top:501px;font-size:9.4px;right:386.35px;color:#0b1430;">100.0%</div>
<div class="t" style="top:513px;font-size:9.4px;left:394.25px;color:#2b5190;">% within Location</div>
<div class="t" style="top:513px;font-size:9.4px;right:571.85px;color:#0b1430;">7.4%</div>
<div class="t" style="top:513px;font-size:9.4px;right:479.35px;color:#0b1430;">49.1%</div>
<div class="t" style="top:513px;font-size:9.4px;right:386.35px;color:#0b1430;">28.4%</div>
<div class="r" style="left:342px;top:544px;width:480px;height:101px;background:#8db3e2;"></div>
<div class="t b" style="top:545px;font-size:10.67px;left:281.00px;width:600px;text-align:center;font-weight:bold;color:#1a2c5c;">Metastasis Location</div>
<div class="t" style="top:559px;font-size:9.4px;left:288.12px;width:600px;text-align:center;color:#2b5190;">Distant</div>
<div class="t" style="top:559px;font-size:9.4px;left:347.75px;width:600px;text-align:center;color:#2b5190;">None</div>
<div class="t" style="top:559px;font-size:9.4px;left:415.62px;width:600px;text-align:center;color:#2b5190;">Regional</div>
<div class="t" style="top:559px;font-size:9.4px;left:484.00px;width:600px;text-align:center;color:#2b5190;">Total</div>
<div class="r" style="left:348px;top:569px;width:49px;height:35px;background:#ffff00;"></div>
<div class="r" style="left:348px;top:604px;width:49px;height:35px;background:#92d050;"></div>
<div class="r" style="left:558px;top:569px;width:256px;height:70px;background:#fff;"></div>
<div class="r" style="left:558px;top:581px;width:196px;height:11px;background:#ffff00;"></div>
<div class="r" style="left:558px;top:615px;width:196px;height:12px;background:#ffff00;"></div>
<div class="t" style="top:570px;font-size:9.4px;left:348.50px;color:#4b4d14;">MSI-L</div>
<div class="t" style="top:605px;font-size:9.4px;left:348.50px;color:#22552e;">MSI-H</div>
<div class="t" style="top:570px;font-size:9.4px;left:397.50px;color:#2b5190;">Count</div>
<div class="t" style="top:570px;font-size:9.4px;right:582.60px;color:#0b1430;">24<span style="font-size:6.3px">a</span></div>
<div class="t" style="top:570px;font-size:9.4px;right:523.10px;color:#0b1430;">41<span style="font-size:6.3px">a, b</span></div>
<div class="t" style="top:570px;font-size:9.4px;right:446.85px;color:#0b1430;">13<span style="font-size:6.3px">b</span></div>
<div class="t" style="top:570px;font-size:9.4px;right:386.35px;color:#0b1430;">78</div>
<div class="t" style="top:582px;font-size:9.4px;left:397.50px;color:#2b5190;">% within MSI</div>
<div class="t" style="top:582px;font-size:9.4px;right:582.60px;color:#0b1430;">30.8%</div>
<div class="t" style="top:582px;font-size:9.4px;right:523.10px;color:#0b1430;">52.6%</div>
<div class="t" style="top:582px;font-size:9.4px;right:446.85px;color:#0b1430;">16.7%</div>
<div class="t" style="top:582px;font-size:9.4px;right:386.35px;color:#0b1430;">100.0%</div>
<div class="t" style="top:594px;font-size:9.4px;left:397.50px;color:#2b5190;">% within Metastasis:</div>
<div class="t" style="top:594px;font-size:9.4px;right:582.60px;color:#0b1430;">88.9%</div>
<div class="t" style="top:594px;font-size:9.4px;right:523.10px;color:#0b1430;">71.9%</div>
<div class="t" style="top:594px;font-size:9.4px;right:446.85px;color:#0b1430;">52.0%</div>
<div class="t" style="top:594px;font-size:9.4px;right:386.35px;color:#0b1430;">71.6%</div>
<div class="t" style="top:605px;font-size:9.4px;left:397.50px;color:#2b5190;">Count</div>
<div class="t" style="top:605px;font-size:9.4px;right:582.60px;color:#0b1430;">3<span style="font-size:6.3px">a</span></div>
<div class="t" style="top:605px;font-size:9.4px;right:523.10px;color:#0b1430;">16<span style="font-size:6.3px">a, b</span></div>
<div class="t" style="top:605px;font-size:9.4px;right:446.85px;color:#0b1430;">12<span style="font-size:6.3px">b</span></div>
<div class="t" style="top:605px;font-size:9.4px;right:386.35px;color:#0b1430;">31</div>
<div class="t" style="top:617px;font-size:9.4px;left:397.50px;color:#2b5190;">% within MSI</div>
<div class="t" style="top:617px;font-size:9.4px;right:582.60px;color:#0b1430;">9.7%</div>
<div class="t" style="top:617px;font-size:9.4px;right:523.10px;color:#0b1430;">51.6%</div>
<div class="t" style="top:617px;font-size:9.4px;right:446.85px;color:#0b1430;">38.7%</div>
<div class="t" style="top:617px;font-size:9.4px;right:386.35px;color:#0b1430;">100.0%</div>
<div class="t" style="top:628px;font-size:9.4px;left:397.50px;color:#2b5190;">% within Metastasis:</div>
<div class="t" style="top:628px;font-size:9.4px;right:582.60px;color:#0b1430;">11.1%</div>
<div class="t" style="top:628px;font-size:9.4px;right:523.10px;color:#0b1430;">28.1%</div>
<div class="t" style="top:628px;font-size:9.4px;right:446.85px;color:#0b1430;">48.0%</div>
<div class="t" style="top:628px;font-size:9.4px;right:386.35px;color:#0b1430;">28.4%</div>
<div class="r" style="left:855.10px;top:124.30px;width:301.55px;height:0.80px;background:#7a7a7a;"></div>
<div class="r" style="left:855.10px;top:136.90px;width:301.55px;height:0.80px;background:#7a7a7a;"></div>
<div class="r" style="left:855.10px;top:160.35px;width:301.55px;height:0.80px;background:#7a7a7a;"></div>
<div class="r" style="left:855.10px;top:184.60px;width:301.55px;height:0.80px;background:#7a7a7a;"></div>
<div class="r" style="left:855.10px;top:197.10px;width:301.55px;height:0.80px;background:#7a7a7a;"></div>
<div class="r" style="left:855.10px;top:214.60px;width:301.55px;height:0.80px;background:#7a7a7a;"></div>
<div class="r" style="left:855.10px;top:238.35px;width:301.55px;height:0.80px;background:#7a7a7a;"></div>
<div class="r" style="left:855.10px;top:262.10px;width:301.55px;height:0.80px;background:#7a7a7a;"></div>
<div class="r" style="left:855.10px;top:285.85px;width:301.55px;height:0.80px;background:#7a7a7a;"></div>
<div class="r" style="left:855.10px;top:124.70px;width:0.80px;height:161.55px;background:#7a7a7a;"></div>
<div class="r" style="left:930.85px;top:137.30px;width:0.80px;height:148.95px;background:#7a7a7a;"></div>
<div class="r" style="left:1005.85px;top:124.70px;width:0.80px;height:161.55px;background:#7a7a7a;"></div>
<div class="r" style="left:1080.85px;top:137.30px;width:0.80px;height:148.95px;background:#7a7a7a;"></div>
<div class="r" style="left:1155.85px;top:124.70px;width:0.80px;height:161.55px;background:#7a7a7a;"></div>
<div class="t b" style="top:128px;font-size:9.1px;left:857.50px;font-weight:bold;">Statistically Significant</div>
<div class="t b" style="top:128px;font-size:9.1px;left:1008.25px;font-weight:bold;">Statistically Insignificant</div>
<div class="t" style="top:141px;font-size:9.1px;left:857.50px;">Clinical Staging</div>
<div class="t" style="top:141px;font-size:9.1px;left:933.25px;">P=0.012</div>
<div class="t" style="top:141px;font-size:9.1px;left:1008.25px;">Mesenteric</div>
<div class="t" style="top:141px;font-size:9.1px;left:1083.25px;">P=0.189</div>
<div class="t" style="top:151px;font-size:9.1px;left:1008.25px;">Infiltration</div>
<div class="t" style="top:164px;font-size:9.1px;left:857.50px;">Metastasis</div>
<div class="t" style="top:164px;font-size:9.1px;left:933.25px;">P&lt;0.001</div>
<div class="t" style="top:164px;font-size:9.1px;left:1008.25px;">Tumor Margin</div>
<div class="t" style="top:164px;font-size:9.1px;left:1083.25px;">P=1.000</div>
<div class="t" style="top:175px;font-size:9.1px;left:857.50px;">Location</div>
<div class="t" style="top:187px;font-size:9.1px;left:857.50px;">Mass Area</div>
<div class="t" style="top:187px;font-size:9.1px;left:933.25px;">P=0.001</div>
<div class="t" style="top:187px;font-size:9.1px;left:1008.25px;">Tumor Content</div>
<div class="t" style="top:187px;font-size:9.1px;left:1083.25px;">P=0.498</div>
<div class="t" style="top:200px;font-size:9.1px;left:857.50px;">Tumor Location</div>
<div class="t" style="top:200px;font-size:9.1px;left:933.25px;">P&lt;0.01</div>
<div class="t" style="top:200px;font-size:9.1px;left:1008.25px;">Growth Pattern</div>
<div class="t" style="top:200px;font-size:9.1px;left:1083.25px;">P=0.127</div>
<div class="t" style="top:218px;font-size:9.1px;left:857.50px;">Hounsfield Unit</div>
<div class="t" style="top:218px;font-size:9.1px;left:933.25px;">P=0.002</div>
<div class="t" style="top:218px;font-size:9.1px;left:1008.25px;">Tumor</div>
<div class="t" style="top:218px;font-size:9.1px;left:1083.25px;">P=0.376</div>
<div class="t" style="top:229px;font-size:9.1px;left:857.50px;">SD</div>
<div class="t" style="top:229px;font-size:9.1px;left:1008.25px;">Enhancement</div>
<div class="t" style="top:242px;font-size:9.1px;left:1008.25px;">Mean Primary</div>
<div class="t" style="top:242px;font-size:9.1px;left:1083.25px;">P=0.162</div>
<div class="t" style="top:252px;font-size:9.1px;left:1008.25px;">Hounsfield Unit</div>
<div class="t" style="top:265px;font-size:9.1px;left:1008.25px;">Mean Liver</div>
<div class="t" style="top:265px;font-size:9.1px;left:1083.25px;">P=0.105</div>
<div class="t" style="top:276px;font-size:9.1px;left:1008.25px;">Hounsfield Unit</div>
<div class="r" style="left:840px;top:296px;width:338px;height:16px;background:#1a3668;"></div>
<div class="t b" style="top:299px;font-size:12px;left:844.50px;font-weight:bold;color:#fff;">Discussion</div>
<div class="t" style="top:320px;font-size:8.33px;left:841.25px;"><u>Statistically Significant:</u></div>
<div class="t" style="top:329px;font-size:11px;left:841.80px;">•</div>
<div class="t" style="top:331px;font-size:8.33px;left:851.25px;">MSI-H lesions were more likely to be Clinical Stage 2, and MSI-L lesions were more likely</div>
<div class="t" style="top:341px;font-size:8.33px;left:851.25px;">to be Clinical Stage 3.</div>
<div class="t" style="top:351px;font-size:11px;left:841.80px;">•</div>
<div class="t" style="top:353px;font-size:8.33px;left:851.25px;">increased likelihood for tumors with distant metastasis to be MSI-L, and an inverse</div>
<div class="t" style="top:363px;font-size:8.33px;left:851.25px;">relationship for local metastasis to be MSI-H.</div>
<div class="t" style="top:373px;font-size:11px;left:841.80px;">•</div>
<div class="t" style="top:375px;font-size:8.33px;left:851.25px;">the distribution of primary mass area was statistically larger in MSI-H than MSI-L group.</div>
<div class="t" style="top:384px;font-size:11px;left:841.80px;">•</div>
<div class="t" style="top:386px;font-size:8.33px;left:851.25px;">Tumors found in the left colon are more likely MSI-L; those in the right colon are more</div>
<div class="t" style="top:397px;font-size:8.33px;left:851.25px;">likely MSI-H.</div>
<div class="t" style="top:406px;font-size:11px;left:841.80px;">•</div>
<div class="t" style="top:408px;font-size:8.33px;left:851.25px;">MSI-H samples had a lower SD than MSI-L samples.</div>
<div class="t" style="top:430px;font-size:11px;left:841.80px;">•</div>
<div class="t" style="top:432px;font-size:8.33px;left:851.25px;">This pilot study suggests that there are promising relationships between certain  imaging</div>
<div class="t" style="top:442px;font-size:8.33px;left:851.25px;">characteristics and MSI status.  However, the ability of these to predict MSI status requires</div>
<div class="t" style="top:452px;font-size:8.33px;left:851.25px;">larger prospective evaluation to determine.</div>
<div class="r" style="left:937px;top:424px;width:152px;height:0;border-top:1px dotted #666;"></div>
<div class="r" style="left:840px;top:466px;width:345px;height:16px;background:#1a3668;"></div>
<div class="t b" style="top:469px;font-size:12px;left:845.50px;font-weight:bold;color:#fff;">Limitations</div>
<div class="t b" style="top:485px;font-size:10.64px;left:842.50px;font-weight:bold;"><u>This study:</u></div>
<div class="t" style="top:499px;font-size:10.7px;left:842.50px;">•</div>
<div class="t" style="top:499px;font-size:10.7px;left:847.00px;">Relatively small sample size.  Further research will need to be done to</div>
<div class="t" style="top:511px;font-size:10.7px;left:847.00px;">verify / expand on findings.</div>
<div class="t b" style="top:524px;font-size:9.48px;left:842.50px;font-weight:bold;">References:</div>
<div class="t" style="left:842.00px;top:535.25px;font-size:15.6px;transform-origin:0 0;transform:scale(0.2433,0.25);color:#3a3a3a;-webkit-text-stroke:0;">1. Aaltonen LA, Salovaara R, Kristo P, et al. Incidence of hereditary nonpolyposis colorectal cancer and the feasibility of molecular screening for the disease. <i>N Engl J Med</i>. 1998;338(21):1481-1487.</div>
<div class="t" style="left:842.00px;top:540.45px;font-size:15.6px;transform-origin:0 0;transform:scale(0.2465,0.25);color:#3a3a3a;-webkit-text-stroke:0;">doi:10.1056/NEJM199805213382101</div>
<div class="t" style="left:842.00px;top:547.15px;font-size:15.6px;transform-origin:0 0;transform:scale(0.2429,0.25);color:#3a3a3a;-webkit-text-stroke:0;">2. Cao Y, Zhang G, Zhang J, et al. Predicting Microsatellite Instability Status in Colorectal Cancer Based on Triphasic Enhanced Computed Tomography Radiomics Signatures: A Multicenter Study. <i>Front</i></div>
<div class="t" style="left:842.00px;top:552.15px;font-size:15.6px;transform-origin:0 0;transform:scale(0.2454,0.25);color:#3a3a3a;-webkit-text-stroke:0;"><i>Oncol</i>. 2021;11:687771. Published 2021 Jun 10. doi:10.3389/fonc.2021.687771</div>
<div class="t" style="left:842.00px;top:558.85px;font-size:15.6px;transform-origin:0 0;transform:scale(0.2441,0.25);color:#3a3a3a;-webkit-text-stroke:0;">3. De' Angelis GL, Bottarelli L, Azzoni C, et al. Microsatellite instability in colorectal cancer. <i>Acta Biomed</i>. 2018;89(9-S):97-101. Published 2018 Dec 17. doi:10.23750/abm.v89i9-S.7960</div>
<div class="t" style="left:842.00px;top:565.55px;font-size:15.6px;transform-origin:0 0;transform:scale(0.2441,0.25);color:#3a3a3a;-webkit-text-stroke:0;">4. Samowitz WS, Curtin K, Ma KN, et al. Microsatellite instability in sporadic colon cancer is associated with an improved prognosis at the population level. <i>Cancer Epidemiol Biomarkers Prev</i>.</div>
<div class="t" style="left:842.00px;top:570.55px;font-size:15.6px;transform-origin:0 0;transform:scale(0.2434,0.25);color:#3a3a3a;-webkit-text-stroke:0;">2001;10(9):917-923.</div>
<div class="t" style="left:842.00px;top:577.75px;font-size:15.6px;transform-origin:0 0;transform:scale(0.2376,0.25);color:#3a3a3a;-webkit-text-stroke:0;">5. Siegel, RL, Wagle, NS, Cercek, A, Smith, RA, Jemal, A. Colorectal cancer statistics, 2023. <i>CA Cancer J Clin</i>. 2023; 73(3): 233-254. doi:<u>10.3322/caac.21772</u></div>
<div class="t" style="left:842.00px;top:584.15px;font-size:15.6px;transform-origin:0 0;transform:scale(0.2456,0.25);color:#3a3a3a;-webkit-text-stroke:0;">6. Wang Q, Xu J, Wang A, et al. Systematic review of machine learning-based radiomics approach for predicting microsatellite instability status in colorectal cancer. <i>Radiol Med</i>. 2023;128(2):136-148.</div>
<div class="t" style="left:842.00px;top:589.15px;font-size:15.6px;transform-origin:0 0;transform:scale(0.2480,0.25);color:#3a3a3a;-webkit-text-stroke:0;">doi:10.1007/s11547-023-01593-x</div>
<div class="t" style="left:842.00px;top:596.15px;font-size:15.6px;transform-origin:0 0;transform:scale(0.2428,0.25);color:#3a3a3a;-webkit-text-stroke:0;">7. Fang G, Zheng RY, Jin ZS. Correlations between microsatellite instability and the biological behaviour of tumours. <i>J Cancer Res Clin Oncol</i>. 2019;145(12):2891-2899. doi:10.1007/s00432-019-03053-4</div>
<div class="t" style="left:842.00px;top:602.55px;font-size:15.6px;transform-origin:0 0;transform:scale(0.2403,0.25);color:#3a3a3a;-webkit-text-stroke:0;">8. Fen, J. (2002). CT screening for colorectal cancer. <i>Radiographics, 22</i>(6), 1525-1531.</div>
<div class="t" style="left:842.00px;top:609.55px;font-size:15.6px;transform-origin:0 0;transform:scale(0.2399,0.25);color:#3a3a3a;-webkit-text-stroke:0;">9. Pei Q, Yi X, Chen C, Pang P, Fu Y, Lei G, Chen C, Tan F, Gong G, Li Q, Zai H, Chen BT. Pre-treatment CT-based radiomics nomogram for predicting microsatellite instability status in colorectal cancer.</div>
<div class="t" style="left:842.00px;top:614.55px;font-size:15.6px;transform-origin:0 0;transform:scale(0.2468,0.25);color:#3a3a3a;-webkit-text-stroke:0;"><i>European Radiology</i>. 2022;32:714-724. doi:10.1007/s00330-021-08167-3</div>
<div class="t" style="left:842.00px;top:621.25px;font-size:15.6px;transform-origin:0 0;transform:scale(0.2427,0.25);color:#3a3a3a;-webkit-text-stroke:0;">10. Cao Y, Zhang G, Zhang J, et al. Predicting Microsatellite Instability Status in Colorectal Cancer Based on Triphasic Enhanced Computed Tomography Radiomics Signatures: A Multicenter Study. <i>Frontiers</i></div>
<div class="t" style="left:842.00px;top:625.95px;font-size:15.6px;transform-origin:0 0;transform:scale(0.2511,0.25);color:#3a3a3a;-webkit-text-stroke:0;"><i>in oncology</i>. 2021;11:687771. doi:10.3389/fonc.2021.68777</div>
<div class="t" style="left:842.00px;top:633.05px;font-size:15.6px;transform-origin:0 0;transform:scale(0.2406,0.25);color:#3a3a3a;-webkit-text-stroke:0;">11. Song J, Li Z, Yang L, Wei M, Yang Z, Wang X. Metabolic activity via 18 F-FDG PET/CT is predictive of microsatellite instability status in colorectal cancer. <i>BMC cancer</i>. 2022;22(1):808.</div>
<div class="t" style="left:842.00px;top:638.05px;font-size:15.6px;transform-origin:0 0;transform:scale(0.2480,0.25);color:#3a3a3a;-webkit-text-stroke:0;">doi:10.1186/s12885-022-09871-z</div>
<div class="t b" style="top:649px;font-size:5.96px;left:712.70px;width:600px;text-align:center;font-weight:bold;">Copywright 2025 American Society of Clinical Oncology, Inc.  Reused with permission.  This abstract was accepted and</div>
<div class="t b" style="top:656px;font-size:5.96px;left:712.70px;width:600px;text-align:center;font-weight:bold;">previously presented at the 2025 gastrointestinal cancer symposium.  All Rights Reserved.</div>
</div></body></html>
